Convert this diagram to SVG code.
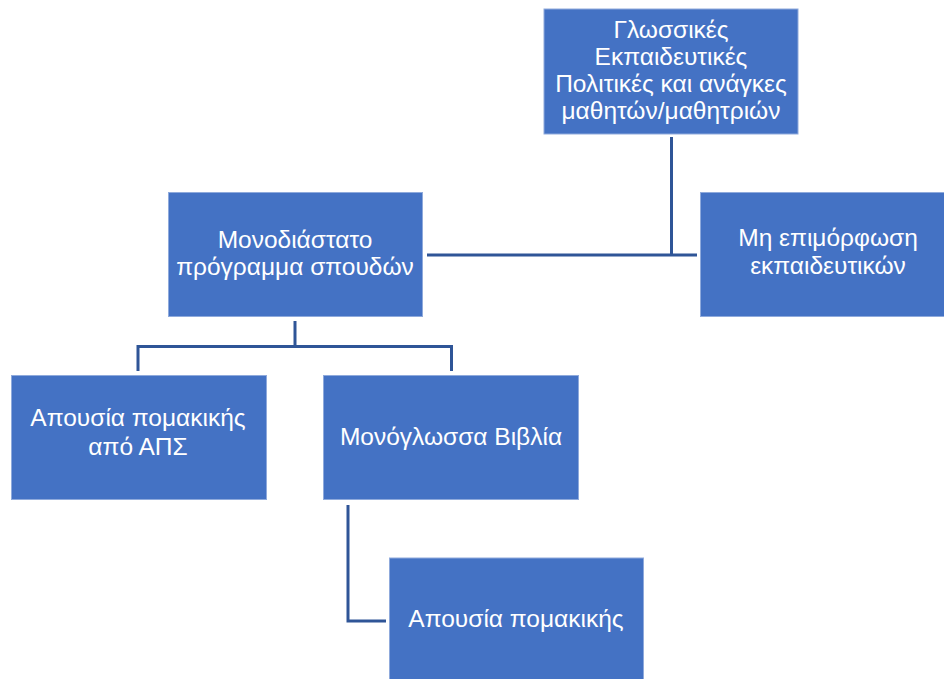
<svg xmlns="http://www.w3.org/2000/svg" width="944" height="679" viewBox="0 0 944 679">
<style>
.box{fill:#4472C4;stroke:#8FAADC;stroke-width:1}
.t{fill:#ffffff;font-family:"Liberation Sans",Arial,sans-serif;font-size:24.5px;text-anchor:middle}
.c{fill:none;stroke:#2F5597;stroke-width:3}
</style>
<rect width="944" height="679" fill="#ffffff"/>
<g id="connectors">
<polyline class="c" points="671.5,137 671.5,255"/>
<polyline class="c" points="427,255 697,255"/>
<polyline class="c" points="295,321 295,346.5"/>
<polyline class="c" points="138,371 138,346.5 451.5,346.5 451.5,371"/>
<polyline class="c" points="348,505 348,621 386,621"/>
</g>
<g id="n1">
<rect class="box" x="544" y="9" width="254" height="125"/>
<text class="t" x="671" y="38">Γλωσσικές</text>
<text class="t" x="671" y="65">Εκπαιδευτικές</text>
<text class="t" x="671" y="92">Πολιτικές και ανάγκες</text>
<text class="t" x="671" y="119">μαθητών/μαθητριών</text>
</g>
<g id="n2">
<rect class="box" x="168.5" y="192.5" width="254" height="124"/>
<text class="t" x="295" y="248">Μονοδιάστατο</text>
<text class="t" x="295" y="275">πρόγραμμα σπουδών</text>
</g>
<g id="n3">
<rect class="box" x="700.5" y="192.5" width="254" height="124"/>
<text class="t" x="828" y="246">Μη επιμόρφωση</text>
<text class="t" x="828" y="274">εκπαιδευτικών</text>
</g>
<g id="n4">
<rect class="box" x="11.5" y="375.5" width="255" height="124"/>
<text class="t" x="138" y="426">Απουσία πομακικής</text>
<text class="t" x="138" y="455">από ΑΠΣ</text>
</g>
<g id="n5">
<rect class="box" x="323.5" y="375.5" width="255" height="124"/>
<text class="t" x="451" y="445">Μονόγλωσσα Βιβλία</text>
</g>
<g id="n6">
<rect class="box" x="389.5" y="558" width="254" height="124"/>
<text class="t" x="516" y="627">Απουσία πομακικής</text>
</g>
</svg>
